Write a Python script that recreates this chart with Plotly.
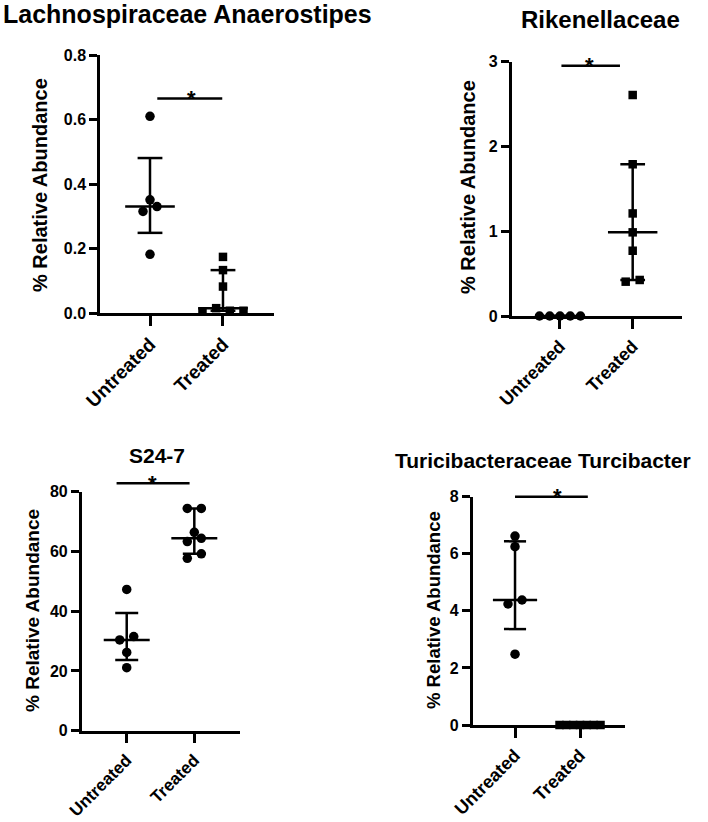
import numpy as np
import plotly.graph_objects as go

# ---------------- data ----------------
categories = ["Untreated", "Treated"]

lach_untreated = [0.61, 0.351, 0.315, 0.33, 0.182]
lach_treated = [0.174, 0.133, 0.082, 0.004, 0.015, 0.007, 0.007]
lach_sig = 0.665
lach_yticks = [0.0, 0.2, 0.4, 0.6, 0.8]
lach_yticklabels = ["0.0", "0.2", "0.4", "0.6", "0.8"]

rik_untreated = [0.0, 0.0, 0.0, 0.0, 0.0]
rik_treated = [2.607, 1.79, 1.21, 0.987, 0.77, 0.405, 0.425]
rik_sig = 2.953
rik_yticks = [0, 1, 2, 3]
rik_yticklabels = ["0", "1", "2", "3"]

s24_untreated = [47.3, 30.4, 31.5, 26.2, 21.1]
s24_treated = [74.4, 74.4, 66.4, 63.3, 64.4, 57.7, 59.2]
s24_sig = 82.8
s24_yticks = [0, 20, 40, 60, 80]
s24_yticklabels = ["0", "20", "40", "60", "80"]

turi_untreated = [6.62, 6.25, 4.24, 4.38, 2.48]
turi_treated = [0.0, 0.0, 0.0, 0.0, 0.0, 0.0, 0.0]
turi_sig = 8.0
turi_yticks = [0, 2, 4, 6, 8]
turi_yticklabels = ["0", "2", "4", "6", "8"]

# ---------------- layout / style ----------------
W, H = 708, 822
FONT = "Liberation Sans, Arial, Helvetica, sans-serif"
LW = 2.5

panels = [
    dict(title="Lachnospiraceae Anaerostipes", groups=[lach_untreated, lach_treated],
         symbols=["circle", "square"],
         yticks=lach_yticks, yticklabels=lach_yticklabels, sig=lach_sig,
         box=(100, 274, 55, 313), xrange=(-0.685, 1.699),
         sigx=(0.10, 0.99), starx=0.575,
         title_pos=(1, 14, "left"), title_size=25,
         ytitle_pos=(40, 185), ytitle_size=20, tick_size=16, xtick_size=19),
    dict(title="Rikenellaceae", groups=[rik_untreated, rik_treated],
         symbols=["circle", "square"],
         yticks=rik_yticks, yticklabels=rik_yticklabels, sig=rik_sig,
         box=(511.7, 681.7, 61.7, 316), xrange=(-0.664, 1.674),
         sigx=(0.02, 0.825), starx=0.41,
         title_pos=(600, 20, "center"), title_size=24,
         ytitle_pos=(468, 187), ytitle_size=20, tick_size=16, xtick_size=18),
    dict(title="S24-7", groups=[s24_untreated, s24_treated],
         symbols=["circle", "circle"],
         yticks=s24_yticks, yticklabels=s24_yticklabels, sig=s24_sig,
         box=(81.7, 240, 491.7, 730.7), xrange=(-0.666, 1.676),
         sigx=(-0.15, 0.93), starx=0.385,
         title_pos=(157, 455, "center"), title_size=21,
         ytitle_pos=(32, 611), ytitle_size=19, tick_size=16, xtick_size=17),
    dict(title="Turicibacteraceae Turcibacter", groups=[turi_untreated, turi_treated],
         symbols=["circle", "square"],
         yticks=turi_yticks, yticklabels=turi_yticklabels, sig=turi_sig,
         box=(472.7, 625, 496.7, 725), xrange=(-0.651, 1.692),
         sigx=(0.0, 1.12), starx=0.646,
         title_pos=(543, 460, "center"), title_size=21,
         ytitle_pos=(433, 610), ytitle_size=18.5, tick_size=16, xtick_size=18),
]


def swarm_offsets(vals, ppu_y, thr=9.0, gap=14.0, maxw=41.0):
    """Horizontal pixel offsets for a simple centred beeswarm."""
    vals = np.asarray(vals, dtype=float)
    order = np.argsort(vals, kind="stable")
    rows = []
    for i in order:
        if rows and (vals[i] - vals[rows[-1][0]]) * ppu_y < thr:
            rows[-1].append(i)
        else:
            rows.append([i])
    offs = np.zeros(len(vals))
    for row in rows:
        row = sorted(row)
        n = len(row)
        if n == 1:
            continue
        step = min(gap, maxw / (n - 1))
        for k, i in enumerate(row):
            offs[i] = (k - (n - 1) / 2.0) * step
    return offs


fig = go.Figure()
annotations = []
shapes = []
sizes = {"circle": 9.5, "square": 8.5}

for pi, p in enumerate(panels, start=1):
    xa = "x" if pi == 1 else f"x{pi}"
    ya = "y" if pi == 1 else f"y{pi}"
    x0, x1, ytop, ybot = p["box"]
    xr = p["xrange"]
    yr = (0, p["yticks"][-1])
    ppu_x = (x1 - x0) / (xr[1] - xr[0])
    ppu_y = (ybot - ytop) / (yr[1] - yr[0])

    for gi, vals in enumerate(p["groups"]):
        sym = p["symbols"][gi]
        offs = swarm_offsets(vals, ppu_y) / ppu_x
        fig.add_trace(go.Scatter(
            x=gi + offs, y=vals, mode="markers", xaxis=xa, yaxis=ya,
            marker=dict(symbol=sym, size=sizes[sym], color="black",
                        line=dict(width=0)),
            cliponaxis=False, hoverinfo="skip", showlegend=False))

    # median with interquartile range
    xs, ys = [], []
    hw, cw = 0.34, 0.17
    for gi, vals in enumerate(p["groups"]):
        med = float(np.median(vals))
        q1, q3 = np.percentile(vals, [25, 75], method="weibull")
        xs += [gi - hw, gi + hw, None, gi, gi, None,
               gi - cw, gi + cw, None, gi - cw, gi + cw, None]
        ys += [med, med, None, q1, q3, None, q1, q1, None, q3, q3, None]
    fig.add_trace(go.Scatter(x=xs, y=ys, mode="lines", xaxis=xa, yaxis=ya,
                             line=dict(color="black", width=LW),
                             cliponaxis=False, hoverinfo="skip", showlegend=False))

    # significance bar (y in axis-domain units so it may sit above the axis top)
    sig_dom = (p["sig"] - yr[0]) / (yr[1] - yr[0])
    shapes.append(dict(type="line", xref=xa, yref=f"{ya} domain",
                       x0=p["sigx"][0], x1=p["sigx"][1], y0=sig_dom, y1=sig_dom,
                       line=dict(color="black", width=LW)))
    annotations.append(dict(x=p["starx"], y=sig_dom, xref=xa, yref=f"{ya} domain", text="*",
                            showarrow=False, xanchor="center", yanchor="middle",
                            font=dict(family=FONT, size=22, color="black", weight="bold")))

    # titles
    tx, ty, tanchor = p["title_pos"]
    annotations.append(dict(x=tx / W, y=1 - ty / H, xref="paper", yref="paper",
                            text=p["title"], showarrow=False, xanchor=tanchor,
                            yanchor="middle",
                            font=dict(family=FONT, size=p["title_size"], color="black",
                                      weight="bold")))
    yx, yy = p["ytitle_pos"]
    annotations.append(dict(x=yx / W, y=1 - yy / H, xref="paper", yref="paper",
                            text="% Relative Abundance", textangle=-90, showarrow=False,
                            xanchor="center", yanchor="middle",
                            font=dict(family=FONT, size=p["ytitle_size"], color="black",
                                      weight="bold")))

    axis_common = dict(showline=True, linewidth=LW, linecolor="black", showgrid=False,
                       zeroline=False, ticks="outside", tickwidth=LW, tickcolor="black",
                       automargin=False)
    fig.update_layout(**{
        ("xaxis" if pi == 1 else f"xaxis{pi}"): dict(
            domain=[x0 / W, x1 / W], anchor=ya, range=list(xr),
            tickmode="array", tickvals=[0, 1], ticktext=categories, tickangle=-45,
            ticklen=10,
            tickfont=dict(family=FONT, size=p["xtick_size"], color="black", weight="bold"),
            **axis_common),
        ("yaxis" if pi == 1 else f"yaxis{pi}"): dict(
            domain=[1 - ybot / H, 1 - ytop / H], anchor=xa, range=list(yr),
            tickmode="array", tickvals=p["yticks"], ticktext=p["yticklabels"],
            ticklen=8,
            tickfont=dict(family=FONT, size=p["tick_size"], color="black", weight="bold"),
            **axis_common),
    })

fig.update_layout(width=W, height=H,
                  margin=dict(l=0, r=0, t=0, b=0, pad=0, autoexpand=False),
                  paper_bgcolor="white", plot_bgcolor="white", showlegend=False,
                  annotations=annotations, shapes=shapes)

fig.write_html("out.html", config={"displayModeBar": False},
               post_script="document.body.style.margin='0';document.body.style.padding='0';")
